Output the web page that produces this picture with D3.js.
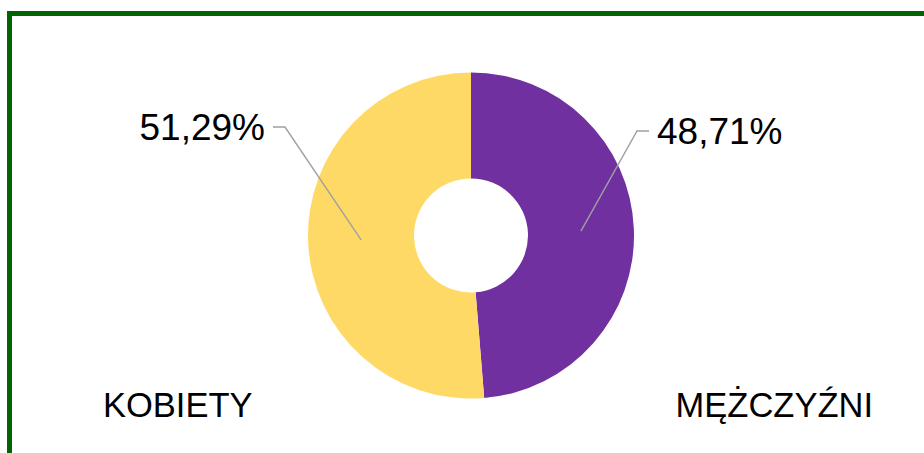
<!DOCTYPE html>
<html>
<head>
<meta charset="utf-8">
<script src="https://cdn.jsdelivr.net/npm/d3@7"></script>
<style>
  body { margin: 0; background: #fff; }
  svg { display: block; font-family: "Liberation Sans", Arial, sans-serif; }
</style>
</head>
<body>
<svg width="924" height="453"></svg>
<script>
const categories = ["MĘŻCZYŹNI", "KOBIETY"];
const values = [48.71, 51.29];
const colors = ["#7030A0", "#FFD966"];

const svg = d3.select("svg");

// frame (cut off at right and bottom)
svg.append("rect")
  .attr("x", 9.5).attr("y", 13.5)
  .attr("width", 940).attr("height", 460)
  .attr("fill", "none")
  .attr("stroke", "#006400")
  .attr("stroke-width", 5);

const cx = 471, cy = 235.5;
const outerR = 163, innerR = 57;

const data = categories.map((c, i) => ({ name: c, value: values[i], color: colors[i] }));

const pie = d3.pie().sort(null).value(d => d.value);
const arc = d3.arc().innerRadius(innerR).outerRadius(outerR);
const midArc = d3.arc().innerRadius((innerR + outerR) / 2).outerRadius((innerR + outerR) / 2);

const g = svg.append("g").attr("transform", "translate(" + cx + "," + cy + ")");
const arcs = pie(data);

g.selectAll("path.slice").data(arcs)
  .enter().append("path")
  .attr("class", "slice")
  .attr("d", arc)
  .attr("fill", d => d.data.color);

// leader elbows relative to centre, and which side the label sits on
const leaders = [
  { elbow: [166, -104.5], side: 1 },
  { elbow: [-186, -108.5], side: -1 }
];

const fmt = v => v.toFixed(2).replace(".", ",") + "%";

arcs.forEach((d, i) => {
  const c = midArc.centroid(d);
  const l = leaders[i];
  const end = [l.elbow[0] + l.side * 12, l.elbow[1]];
  g.append("polyline")
    .attr("points", [c, l.elbow, end].map(p => p.join(",")).join(" "))
    .attr("fill", "none")
    .attr("stroke", "#A0A0A0")
    .attr("stroke-width", 1.4);
  g.append("text")
    .attr("x", end[0] + l.side * 8)
    .attr("y", end[1])
    .attr("dy", "0.35em")
    .attr("text-anchor", l.side > 0 ? "start" : "end")
    .attr("font-size", 37)
    .attr("fill", "#000")
    .text(fmt(d.data.value));
});

// category names
const names = [
  { x: 873, anchor: "end" },
  { x: 103, anchor: "start" }
];
data.forEach((d, i) => {
  svg.append("text")
    .attr("x", names[i].x)
    .attr("y", 417)
    .attr("text-anchor", names[i].anchor)
    .attr("font-size", 34.5)
    .attr("fill", "#000")
    .text(d.name);
});
</script>
</body>
</html>
